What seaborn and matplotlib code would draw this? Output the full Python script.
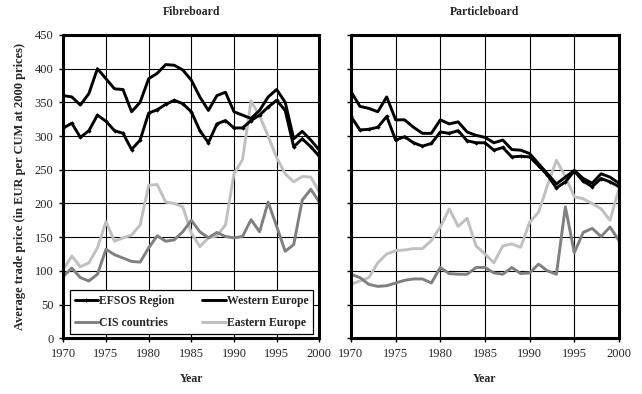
import matplotlib
matplotlib.use('Agg')
import matplotlib.pyplot as plt
import seaborn as sns
import pandas as pd

years = list(range(1970, 2001))

# Fibreboard, EUR per CUM (2000 prices)
fib_efsos = [312, 319, 298, 308, 331, 322, 308, 304, 280, 294, 334, 339, 347, 353, 348,
             336, 308, 290, 318, 323, 312, 312, 323, 331, 343, 353, 338, 284, 296, 284, 270]
fib_west = [360, 358, 346, 363, 400, 385, 370, 369, 336, 350, 385, 393, 406, 405, 398,
            383, 358, 338, 360, 365, 336, 331, 326, 338, 358, 369, 350, 296, 307, 294, 279]
fib_cis = [92, 104, 90, 85, 95, 132, 124, 119, 114, 113, 134, 152, 144, 146, 158,
           175, 158, 149, 157, 151, 149, 151, 176, 158, 202, 166, 129, 139, 205, 221, 202]
fib_east = [102, 122, 106, 112, 134, 173, 144, 149, 153, 168, 227, 228, 202, 200, 195,
            156, 136, 149, 152, 168, 244, 265, 352, 330, 300, 268, 244, 232, 240, 239, 217]

# Particleboard
part_efsos = [329, 309, 310, 313, 329, 294, 299, 290, 285, 289, 306, 304, 308, 293, 290,
              290, 279, 283, 269, 270, 269, 256, 242, 223, 232, 248, 233, 225, 237, 232, 225]
part_west = [366, 344, 341, 336, 358, 324, 324, 313, 304, 304, 324, 318, 321, 306, 301,
             298, 290, 294, 280, 279, 274, 259, 244, 229, 239, 249, 237, 230, 244, 239, 230]
part_cis = [95, 90, 80, 77, 78, 82, 86, 88, 88, 82, 105, 96, 95, 95, 105,
            105, 97, 95, 105, 96, 97, 110, 100, 95, 195, 127, 157, 163, 151, 165, 145]
part_east = [80, 85, 90, 112, 125, 130, 131, 133, 133, 145, 165, 192, 166, 178, 137,
             125, 112, 137, 140, 135, 172, 187, 227, 264, 240, 210, 207, 200, 192, 175, 222]

series_names = ["EFSOS Region", "Western Europe", "CIS countries", "Eastern Europe"]
colors = {"EFSOS Region": "black", "Western Europe": "black",
          "CIS countries": "#808080", "Eastern Europe": "#c0c0c0"}

panels = {
    "Fibreboard": [fib_efsos, fib_west, fib_cis, fib_east],
    "Particleboard": [part_efsos, part_west, part_cis, part_east],
}

sns.set_style("white")
plt.rcParams['font.family'] = ['Liberation Serif', 'DejaVu Serif']

fig = plt.figure(figsize=(6.42, 3.94), dpi=100)
ax1 = fig.add_axes([0.0986, 0.1414, 0.3988, 0.770])
ax2 = fig.add_axes([0.5467, 0.1414, 0.4174, 0.770])

for ax, (title, data) in zip([ax1, ax2], panels.items()):
    # draw the light ones first so the black lines sit on top
    for name, vals in reversed(list(zip(series_names, data))):
        df = pd.DataFrame({"year": years, "price": vals})
        kw = {}
        if name == "EFSOS Region":
            kw = dict(marker='D', markersize=2.2, markeredgewidth=0)
        sns.lineplot(data=df, x="year", y="price", ax=ax, color=colors[name],
                     linewidth=2.1, label=name, legend=False, **kw)

    ax.set_xlim(1970, 2000)
    ax.set_ylim(0, 450)
    ax.set_xticks(range(1970, 2001, 5))
    ax.set_yticks(range(0, 451, 50))
    ax.grid(True, color='black', linewidth=0.8)
    ax.set_axisbelow(True)
    for side in ['left', 'bottom', 'top', 'right']:
        ax.spines[side].set_visible(True)
        ax.spines[side].set_color('black')
        ax.spines[side].set_linewidth(2.2)
    ax.tick_params(axis='both', direction='out', length=3, width=1, color='black',
                   labelsize=9, pad=4, left=True, bottom=True)
    ax.set_title(title, fontsize=8.5, fontweight='bold', pad=14)
    ax.set_xlabel("Year", fontsize=8.5, fontweight='bold', labelpad=9)

ax1.set_ylabel("Average trade price (in EUR per CUM at 2000 prices)",
               fontsize=9, fontweight='bold', labelpad=6)
ax2.set_ylabel("")
ax2.set_yticklabels([])

# legend: two rows, two columns
handles, labels = ax1.get_legend_handles_labels()
lookup = dict(zip(labels, handles))
order = ["EFSOS Region", "CIS countries", "Western Europe", "Eastern Europe"]
leg = ax1.legend([lookup[n] for n in order], order, ncol=2, loc='lower left',
                 bbox_to_anchor=(0.026, 0.014, 0.95, 0.168), mode='expand',
                 fancybox=False, framealpha=1, edgecolor='black',
                 prop={'family': 'Liberation Serif', 'weight': 'bold', 'size': 8.5},
                 handlelength=2.0, handletextpad=0.1, columnspacing=1.0,
                 borderaxespad=0, labelspacing=0.9)
leg.get_frame().set_linewidth(0.9)

plt.savefig("out.png", dpi=100)
plt.close()
